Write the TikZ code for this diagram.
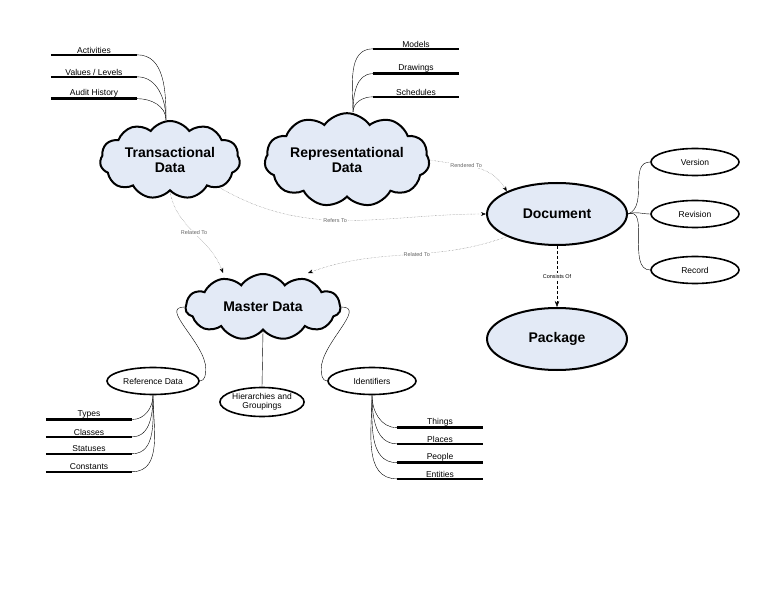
\documentclass[tikz,border=0pt]{standalone}
\usepackage{fontspec}
\setmainfont{Liberation Sans}
\usetikzlibrary{shapes.symbols,shapes.geometric,arrows.meta}
\definecolor{paleblue}{HTML}{E3EAF6}
\begin{document}
\begin{tikzpicture}[
	x=1pt, y=-1pt,
	cloudy/.style={
		cloud,
		cloud puffs=11,
		cloud puff arc=110,
		aspect=2.2,
		draw=black,
		line width=2pt,
		fill=paleblue,
		align=center,
		font=\bfseries\fontsize{14}{15}\selectfont,
		inner sep=0pt
	},
	bigoval/.style={
		ellipse,
		draw=black,
		line width=2pt,
		fill=paleblue,
		minimum width=140pt,
		minimum height=62pt,
		font=\bfseries\fontsize{14}{15}\selectfont
	},
	oval/.style={
		ellipse,
		draw=black,
		line width=1.6pt,
		fill=white,
		minimum width=88pt,
		minimum height=27pt,
		inner sep=0pt,
		align=center,
		font=\fontsize{8.5}{9}\selectfont
	},
	leaf/.style={
		minimum width=86pt,
		inner sep=1.5pt,
		font=\fontsize{8.5}{9}\selectfont
	},
	branch/.style={thin, black},
	rel/.style={densely dotted, gray!80!black, -{Stealth[length=5pt,black]}},
	lbl/.style={fill=white, inner sep=1pt, font=\fontsize{5.5}{6}\selectfont}
]
\useasboundingbox (0,0) rectangle (768,593);

\node[cloudy, minimum width=140pt, minimum height=78pt] (trans) at (170,160) {Transactional\\Data};
\node[cloudy, minimum width=140pt, minimum height=78pt] (repr) at (347,160) {Representational\\Data};
\node[cloudy, minimum width=155pt, minimum height=66pt] (master) at (263,307) {Master Data};
\node[bigoval] (doc) at (557,214) {Document};
\node[bigoval] (pkg) at (557,339) {Package};

\node[oval] (version) at (695,162) {Version};
\node[oval] (revision) at (695,214) {Revision};
\node[oval] (record) at (695,270) {Record};
\node[oval, minimum width=92pt] (refdata) at (153,381) {Reference Data};
\node[oval, minimum width=84pt, minimum height=29pt] (hier) at (262,402) {Hierarchies and\\Groupings};
\node[oval] (ident) at (372,381) {Identifiers};

% leaves
\node[leaf] (activities) at (94,50) {Activities};
\node[leaf] (values) at (94,72) {Values / Levels};
\node[leaf] (audit) at (94,93) {Audit History};
\node[leaf] (models) at (416,44) {Models};
\node[leaf] (drawings) at (416,68) {Drawings};
\node[leaf] (schedules) at (416,92) {Schedules};
\node[leaf] (types) at (89,414) {Types};
\node[leaf] (classes) at (89,432) {Classes};
\node[leaf] (statuses) at (89,449) {Statuses};
\node[leaf] (constants) at (89,467) {Constants};
\node[leaf] (things) at (440,422) {Things};
\node[leaf] (places) at (440,439) {Places};
\node[leaf] (people) at (440,457) {People};
\node[leaf] (entities) at (440,474) {Entities};

\foreach \n in {activities, values, audit, models, drawings, schedules,
	types, classes, statuses, constants, things, places, people, entities}
	\draw[line width=2.4pt] (\n.south west) -- (\n.south east);

% branches
\foreach \n in {activities, values, audit}
	\draw[branch] (\n.south east) to[out=0, in=90] ([xshift=-4pt]trans.north);
\foreach \n in {models, drawings, schedules}
	\draw[branch] (\n.south west) to[out=180, in=90] ([xshift=6pt]repr.north);
\foreach \n in {types, classes, statuses, constants}
	\draw[branch] (\n.south east) to[out=0, in=-90] (refdata.south);
\foreach \n in {things, places, people, entities}
	\draw[branch] (\n.south west) to[out=180, in=-90] (ident.south);
\foreach \n in {version, revision, record}
	\draw[branch] (\n.west) to[out=180, in=20] (doc.east);
\draw[branch] (refdata.east) to[out=0, in=-90] ++(6,-12) to[out=90, in=180] (master.west);
\draw[branch] (ident.west) to[out=180, in=-90] ++(-6,-12) to[out=90, in=0] (master.east);
\draw[branch] (master.south) -- (hier.north);

% relations
\draw[rel] (trans.south east) to[out=-30, in=180] node[lbl, pos=0.45] {Refers To} (doc.west);
\draw[rel] (repr.east) to[out=-10, in=120] node[lbl, pos=0.4] {Rendered To} (doc.north west);
\draw[rel] (trans.south) to[out=-80, in=110] node[lbl] {Related To} ([xshift=-40pt]master.north);
\draw[rel] (doc.south west) to[out=-160, in=20] node[lbl, pos=0.45] {Related To} ([xshift=45pt]master.north);
\draw[densely dashed, -{Stealth[length=6pt]}] (doc.south) -- node[lbl] {Consists Of} (pkg.north);
\end{tikzpicture}
\end{document}
